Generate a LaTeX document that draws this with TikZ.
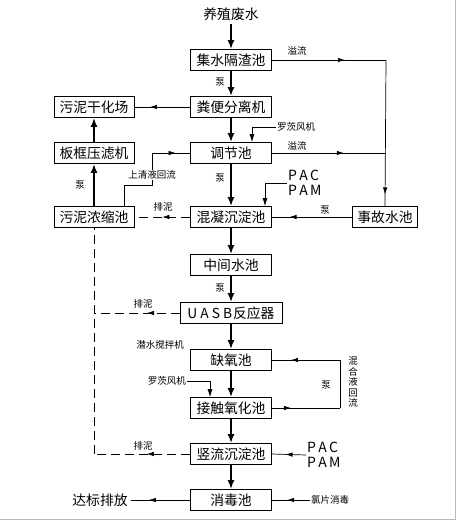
\documentclass[tikz,border=0pt]{standalone}
\usepackage{fontspec}
\setmainfont{Noto Sans CJK SC}
\usetikzlibrary{arrows.meta,decorations.markings}
\def\drawflow{\draw[line width=2.2pt,-{Latex[length=9pt,width=7pt]}]}
\def\drawpipe{\draw[line width=0.7pt]}
\tikzset{
  tank/.style={draw,line width=0.8pt,minimum width=81pt,minimum height=21pt,inner sep=0pt,font=\fontsize{13.8}{14}\selectfont},
  lbl/.style={font=\fontsize{9.5}{10}\selectfont,inner sep=1pt},
  big/.style={font=\fontsize{13.8}{14}\selectfont},
  dosing/.style={font=\fontsize{14}{15.5}\selectfont,align=left,inner sep=1pt},
  sludge/.style={dash pattern=on 9pt off 5pt},
  tip/.style={-{Latex[length=8pt,width=5pt]}},
  midarr/.style={postaction={decorate,decoration={markings,mark=at position #1 with {\arrow{Latex[length=7pt,width=4.5pt]}}}}}
}

\begin{document}
\begin{tikzpicture}[x=1pt,y=-1pt]
\useasboundingbox (0,0) rectangle (460,522);
\draw[gray!55,line width=1pt] (0,519) -- (455,519) -- (455,0);
\node[big] (src) at (231,14) {养殖废水};
\node[tank] (jishui) at (231,60) {集水隔渣池};
\node[tank] (fenbian) at (231,107) {粪便分离机};
\node[tank] (tiaojie) at (231,153) {调节池};
\node[tank] (hunning) at (231,217) {混凝沉淀池};
\node[tank] (zhongjian) at (231,265) {中间水池};
\node[tank,minimum width=102pt] (uasb) at (231,313) {U\hspace{3pt}A\hspace{3pt}S\hspace{3pt}B\hspace{1pt}反应器};
\node[tank] (queyang) at (231,360) {缺氧池};
\node[tank] (jiechu) at (231,408) {接触氧化池};
\node[tank] (shuliu) at (231,454) {竖流沉淀池};
\node[tank] (xiaodu) at (231,500) {消毒池};
\node[tank,minimum width=80pt] (ganhua) at (94,107) {污泥干化场};
\node[tank,minimum width=80pt] (bankuang) at (94,153) {板框压滤机};
\node[tank,minimum width=80pt] (nongsuo) at (94,217) {污泥浓缩池};
\node[tank,minimum width=65pt] (shigu) at (385,217) {事故水池};
\node[big] (dabiao) at (100,500) {达标排放};

\drawflow (src) -- (jishui);
\drawflow (jishui) -- (fenbian);
\drawflow (fenbian) -- (tiaojie);
\drawflow (tiaojie) -- (hunning);
\drawflow (hunning) -- (zhongjian);
\drawflow (zhongjian) -- (uasb);
\drawflow (uasb) -- (queyang);
\drawflow (queyang) -- (jiechu);
\drawflow (jiechu) -- (shuliu);
\drawflow (shuliu) -- (xiaodu);
\drawflow (bankuang) -- (ganhua);
\drawflow (nongsuo) -- (bankuang);
\node[lbl] (pump1) at (220,82) {泵};
\node[lbl] (pump2) at (220,178) {泵};
\node[lbl] (pump3) at (220,288) {泵};
\node[lbl] (pump4) at (80,185) {泵};

\coordinate (rtop) at (386,60);
\coordinate (rmid) at (386,153);
\drawpipe[midarr=0.64] (jishui.east) -- (rtop);
\drawpipe[midarr=0.63] (tiaojie.east) -- (rmid);
\drawpipe[midarr=0.92] (rtop) -- (shigu.north);
\node[lbl] (over1) at (297,51) {溢流};
\node[lbl] (over2) at (297,146) {溢流};
\drawpipe[midarr=0.78] (shigu.west) -- (hunning.east);
\node[lbl] (pump5) at (325,210) {泵};

\node[lbl,anchor=west] (roots1) at (276,127) {罗茨风机};
\coordinate (r1) at (252,127);
\drawpipe[tip] (roots1.west) -- (r1) -- (tiaojie.north -| r1);
\node[dosing,anchor=west] (pac1) at (287,183) {P\,A\,C\\P\,A\,M};
\coordinate (p1) at (265,183);
\drawpipe[tip] (pac1.west) -- (p1) -- (hunning.north -| p1);

\drawpipe[midarr=0.72] (fenbian.west) -- (ganhua.east);
\coordinate (s1) at (152,153);
\coordinate (s2) at (152,185);
\coordinate (s3) at (124,185);
\drawpipe (nongsuo.north -| s3) -- (s3) -- (s2) -- (s1);
\drawpipe[midarr=0.62] (s1) -- (tiaojie.west);
\node[lbl,fill=white] (clear) at (152,175) {上清液回流};

\coordinate (d1) at (94,313);
\coordinate (d2) at (94,454);
\drawpipe[sludge,midarr=0.5] (hunning.west) -- (nongsuo.east);
\drawpipe[sludge] (d2) -- (nongsuo.south);
\drawpipe[sludge,midarr=0.38] (uasb.west) -- (d1);
\drawpipe[sludge,midarr=0.45] (shuliu.west) -- (d2);
\node[lbl] (mud1) at (163,207) {排泥};
\node[lbl] (mud2) at (143,304) {排泥};
\node[lbl] (mud3) at (143,446) {排泥};

\node[lbl] (mixer) at (160,345) {潜水搅拌机};
\node[lbl,anchor=east] (roots2) at (187,381) {罗茨风机};
\coordinate (r2) at (210,381);
\drawpipe[tip] (roots2.east) -- (r2) -- (jiechu.north -| r2);

\coordinate (l1) at (340,408);
\coordinate (l2) at (340,360);
\drawpipe[midarr=0.28] (jiechu.east) -- (l1);
\drawpipe (l1) -- (l2);
\drawpipe[midarr=0.72] (l2) -- (queyang.east);
\node[lbl] (pump6) at (326,385) {泵};
\node[lbl,align=center,font=\fontsize{9.5}{10.5}\selectfont] (mixback) at (353,382) {混\\合\\液\\回\\流};

\node[dosing,anchor=west] (pac2) at (306,455) {P\,A\,C\\P\,A\,M};
\drawpipe[midarr=0.6] (pac2.west) -- (shuliu.east);
\node[lbl,anchor=west] (chlor) at (310,500) {氯片消毒};
\drawpipe[midarr=0.6] (chlor.west) -- (xiaodu.east);
\drawpipe[midarr=0.7] (xiaodu.west) -- (dabiao.east);
\end{tikzpicture}
\end{document}
